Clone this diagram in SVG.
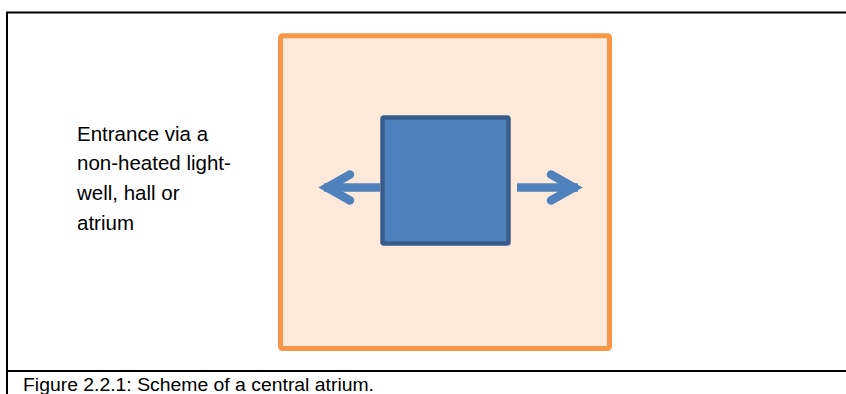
<svg xmlns="http://www.w3.org/2000/svg" width="846" height="394" viewBox="0 0 846 394">
<style>
.frame{fill:none;stroke:#000;stroke-width:2}
.label{font-family:"Liberation Sans",Arial,sans-serif;font-size:20.5px;fill:#000}
.cap{font-family:"Liberation Sans",Arial,sans-serif;font-size:18px;fill:#000}
.arrow{fill:none;stroke:#4F81BD;stroke-width:8.5}
</style>
<rect width="846" height="394" fill="#fff"/>
<g id="frame">
<path class="frame" d="M7,394 V12.5 H847"/>
<path class="frame" d="M7,371 H847"/>
</g>
<g id="atrium">
<rect x="280.5" y="35.8" width="329" height="312.7" rx="2" fill="#FDE9D9" stroke="#F79646" stroke-width="5"/>
</g>
<g id="core">
<rect x="382.5" y="117.5" width="126" height="126" rx="1.5" fill="#4F81BD" stroke="#385D8A" stroke-width="4.5"/>
</g>
<g id="connectors">
<path class="arrow" d="M380,187.5 H324"/>
<path class="arrow" d="M350,174.5 L327,187.5 L350,200.5" stroke-linecap="round" stroke-linejoin="miter"/>
<path class="arrow" d="M517,187.5 H578"/>
<path class="arrow" d="M551,174.5 L574,187.5 L551,200.5" stroke-linecap="round" stroke-linejoin="miter"/>
</g>
<g id="entrance-label">
<text class="label" x="77" y="141">Entrance via a</text>
<text class="label" x="77" y="170">non-heated light-</text>
<text class="label" x="77" y="200">well, hall or</text>
<text class="label" x="77" y="230">atrium</text>
</g>
<g id="caption">
<text class="cap" x="23" y="391" textLength="351" lengthAdjust="spacingAndGlyphs">Figure 2.2.1: Scheme of a central atrium.</text>
</g>
</svg>
